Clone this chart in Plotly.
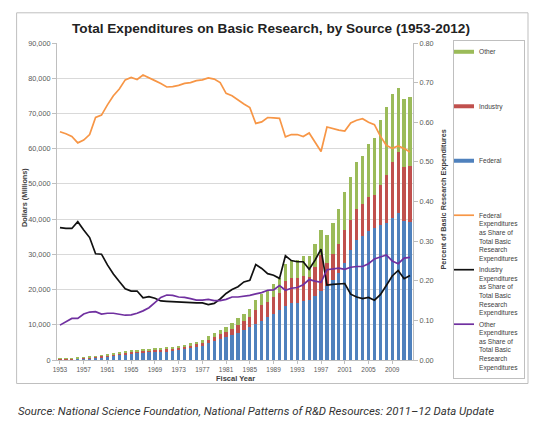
import plotly.graph_objects as go

years = list(range(1953, 2013))

federal = [242, 257, 282, 329, 416, 512, 673, 803, 998, 1234,
           1436, 1697, 1854, 2018, 2157, 2311, 2362, 2443, 2480, 2622,
           2737, 3001, 3290, 3666, 4101, 4770, 5459, 6020, 6394, 7004,
           7741, 8398, 9300, 10149, 11179, 12118, 13198, 14274, 15370, 16103,
           16217, 16638, 16904, 18040, 19462, 20874, 22776, 24824, 27628, 31096,
           33941, 35200, 36720, 37422, 38420, 38916, 40317, 41688, 39516, 39218]
industry = [140, 149, 166, 209, 246, 278, 295, 347, 372, 401,
            416, 432, 452, 496, 471, 520, 523, 522, 533, 559,
            581, 624, 682, 749, 835, 938, 1101, 1324, 1596, 1869,
            2183, 2561, 2935, 4097, 4297, 4316, 4622, 4820, 7180, 7103,
            7068, 7316, 6756, 8266, 10360, 6710, 7449, 8218, 9225, 8632,
            8920, 8959, 9670, 9513, 11220, 13498, 16006, 17447, 15170, 15911]
other = [38, 44, 52, 62, 88, 110, 132, 150, 180, 215,
         248, 271, 294, 336, 372, 419, 465, 535, 587, 619,
         632, 675, 728, 785, 864, 992, 1140, 1256, 1510, 1627,
         1876, 2041, 2365, 2754, 3124, 3366, 3780, 4306, 4750, 5094,
         5215, 5546, 5840, 6494, 7178, 7916, 8775, 9758, 10947, 12272,
         13239, 13641, 14810, 16065, 18360, 19386, 19177, 18065, 19314, 19571]

fed_share = [.576, .571, .564, .548, .555, .569, .612, .618, .644, .667,
             .684, .707, .713, .708, .719, .711, .705, .698, .689, .690,
             .693, .698, .700, .705, .707, .712, .709, .700, .673, .667,
             .656, .646, .637, .597, .601, .612, .611, .610, .563, .569,
             .569, .564, .573, .550, .526, .588, .584, .580, .578, .598,
             .605, .609, .600, .594, .565, .542, .534, .540, .534, .525]
ind_share = [.334, .332, .332, .349, .328, .309, .268, .267, .240, .217,
             .198, .180, .174, .174, .157, .160, .156, .149, .148, .147,
             .147, .145, .145, .144, .144, .140, .143, .154, .168, .178,
             .185, .197, .201, .241, .231, .218, .214, .206, .263, .251,
             .248, .248, .229, .252, .280, .189, .191, .192, .193, .166,
             .159, .155, .158, .151, .165, .188, .212, .226, .205, .213]
oth_share = [.088, .097, .105, .105, .116, .121, .122, .116, .118, .118,
             .116, .113, .114, .118, .124, .132, .145, .158, .164, .163,
             .159, .158, .155, .151, .151, .153, .150, .150, .153, .159,
             .159, .161, .163, .167, .170, .176, .177, .188, .176, .181,
             .183, .190, .203, .199, .196, .228, .230, .232, .229, .234,
             .236, .236, .243, .255, .260, .265, .250, .243, .257, .259]

BLUE, RED, GREEN = "#4F81BD", "#C0504D", "#9BBB59"
ORANGE, BLACK, PURPLE = "#F79646", "#111111", "#7030A0"
FONT = "Liberation Sans, Arial, sans-serif"
NB = "\u00a0"
pad = ("<br>" + NB) * 5
share_txt = "<br>Expenditures<br>as Share of<br>Total Basic<br>Research<br>Expenditures"

fig = go.Figure()
for name, vals, col, rank in [("Federal", federal, BLUE, 3),
                              ("Industry", industry, RED, 2),
                              ("Other", other, GREEN, 1)]:
    fig.add_trace(go.Bar(x=years, y=vals, marker_color=col, marker_line_width=0,
                         name=name, legendgroup=name, showlegend=False))
    fig.add_trace(go.Scatter(x=[None], y=[None], mode="lines",
                             line=dict(color=col, width=4),
                             name=name + pad, legendgroup=name, legendrank=rank))

for name, vals, col, rank in [("Federal", fed_share, ORANGE, 4),
                              ("Industry", ind_share, BLACK, 5),
                              ("Other", oth_share, PURPLE, 6)]:
    fig.add_trace(go.Scatter(x=years, y=vals, yaxis="y2", mode="lines",
                             line=dict(color=col, width=1.7),
                             name=name + share_txt, legendrank=rank))

# The page has an 8px body margin; figure is 536x420 so it fills the window.
# Plot area in window pixels: x 57..413, y 43..360.
def px_x(p):
    return (p - 57) / 356.0

def px_y(p):
    return (360 - p) / 317.0

fig.update_layout(
    width=536, height=420,
    margin=dict(l=49, r=131, t=35, b=68),
    paper_bgcolor="white", plot_bgcolor="white",
    barmode="stack", bargap=0.45,
    font=dict(family=FONT, color="#404040"),
    title=dict(text="<b>Total Expenditures on Basic Research, by Source (1953-2012)</b>",
               x=(271 - 8) / 536, xref="container", y=1 - (28 - 8) / 420, yref="container",
               xanchor="center", yanchor="middle",
               font=dict(size=13.6, color="#222222", family=FONT)),
    xaxis=dict(range=[1952.5, 2012.5], tickmode="linear", tick0=1953, dtick=4,
               showgrid=False, showline=True, linecolor="#bfbfbf", linewidth=1,
               ticks="outside", ticklen=3, tickcolor="#bfbfbf",
               tickfont=dict(size=6.5, color="#595959", family=FONT), zeroline=False),
    yaxis=dict(range=[0, 90000], dtick=10000, tickformat=",",
               showgrid=True, gridcolor="#d9d9d9", gridwidth=1,
               showline=True, linecolor="#bfbfbf", ticks="outside", ticklen=4,
               tickcolor="#bfbfbf", tickfont=dict(size=7.3, color="#595959", family=FONT),
               zeroline=False),
    yaxis2=dict(range=[0, 0.8], dtick=0.1, tickformat=".2f", overlaying="y",
                side="right", showgrid=False, showline=True, linecolor="#bfbfbf",
                ticks="outside", ticklen=4, tickcolor="#bfbfbf",
                tickfont=dict(size=7.3, color="#595959", family=FONT), zeroline=False),
    legend=dict(x=px_x(453), y=px_y(40), xanchor="left", yanchor="top",
                bordercolor="#bfbfbf", borderwidth=1, bgcolor="white",
                font=dict(size=6.6, color="#404040", family=FONT),
                traceorder="normal", valign="top", indentation=-15,
                tracegroupgap=0),
    showlegend=True,
)
try:
    fig.update_layout(legend_maxheight=400)
except Exception:
    pass

fig.add_shape(type="rect", xref="paper", yref="paper",
              x0=px_x(16.6), x1=px_x(528), y0=px_y(383.5), y1=px_y(12.8),
              line=dict(color="#bfbfbf", width=1), layer="below")

fig.add_annotation(text="<b>Dollars (Millions)</b>", xref="paper", yref="paper",
                   x=px_x(24), y=px_y(198), textangle=-90, showarrow=False,
                   xanchor="center", yanchor="middle",
                   font=dict(size=7.3, color="#404040"))
fig.add_annotation(text="<b>Percent of Basic Research Expenditures</b>", xref="paper",
                   yref="paper", x=px_x(442.5), y=px_y(200), textangle=-90,
                   showarrow=False, xanchor="center", yanchor="middle",
                   font=dict(size=7.3, color="#404040"))
fig.add_annotation(text="<b>Fiscal Year</b>", xref="paper", yref="paper",
                   x=px_x(235), y=px_y(378.5), showarrow=False,
                   xanchor="center", yanchor="middle",
                   font=dict(size=7.5, color="#404040"))
fig.add_annotation(text="<i>Source: National Science Foundation, National Patterns of R&D Resources: 2011\u201312 Data Update</i>",
                   xref="paper", yref="paper", x=px_x(15.5), y=px_y(411),
                   xanchor="left", yanchor="middle", showarrow=False,
                   font=dict(size=11.4, color="#333333", family="Roboto, sans-serif"))

fig.write_html("out.html")
